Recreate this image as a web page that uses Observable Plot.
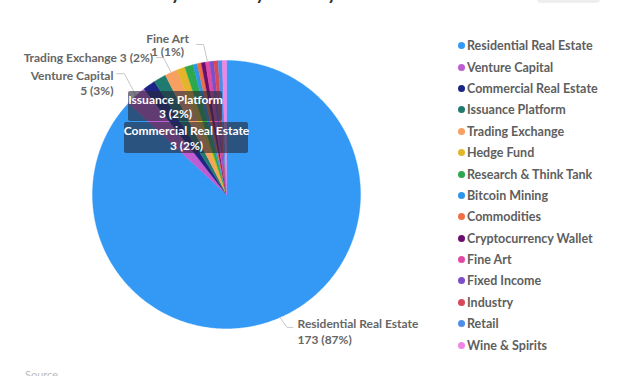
<!DOCTYPE html>
<html><head><meta charset="utf-8">
<script src="https://cdn.jsdelivr.net/npm/d3@7"></script>
<script src="https://cdn.jsdelivr.net/npm/@observablehq/plot@0.6"></script>
<style>
body{margin:0;background:#fff;font-family:Lato,"Open Sans",sans-serif;}
#wrap{position:relative;width:627px;height:376px;overflow:hidden;background:#fff;}
#title{position:absolute;left:22px;top:-17px;font-size:20px;font-weight:700;color:#333;line-height:20px;white-space:nowrap;}
#btn{position:absolute;left:537px;top:-20px;width:63px;height:23px;background:#eeeeee;border-radius:4px;}
#src{position:absolute;left:25px;top:368px;font-size:11px;color:#bbb;}
#legend{position:absolute;left:458px;top:35px;}
.li{height:21.4px;display:flex;align-items:center;font-size:12.5px;font-weight:700;color:#5e5e5e;white-space:nowrap;}
.dot{width:7px;height:7px;border-radius:50%;margin-right:2px;flex:none;}
#chart{position:absolute;left:0;top:0;}
</style></head><body>
<div id="wrap">
  <div id="title">Number of Security Tokens by Industry</div>
  <div id="btn"></div>
  <div id="chart"></div>
  <div id="legend"></div>
  <div id="src">Source</div>
</div>
<script>
const industries = ["Residential Real Estate","Venture Capital","Commercial Real Estate","Issuance Platform","Trading Exchange","Hedge Fund","Research & Think Tank","Bitcoin Mining","Commodities","Cryptocurrency Wallet","Fine Art","Fixed Income","Industry","Retail","Wine & Spirits"];
const counts = [173,5,3,3,3,2,2,1,1,1,1,1,1,1,1];
const colors = ["#3399f5","#bf5cd2","#1c2586","#1f7a70","#f7a061","#e3b52a","#2ea84e","#2f95e8","#ef6f45","#6a0e6e","#e04aa5","#7b4fc9","#d9475a","#4d8fe6","#f085e6"];

// label styling: which labels go outside with leader lines, which are boxed inside
const outside = [
  {name:"Residential Real Estate", oneLine:false, anchor:"start", nudge:[17.6,13.5], lh:1.3, leader:[[0,0],[7,10],[13,10]]},
  {name:"Venture Capital", oneLine:false, anchor:"end", nudge:[-22.5,-12.7], lh:1.25, leader:[[0,0],[-11.5,-22],[-19.5,-22]]},
  {name:"Trading Exchange", oneLine:true, anchor:"end", nudge:[-18,-14.9], lh:1.2, leader:[[0,0],[-7.7,-14.9],[-14.7,-14.9]]},
  {name:"Fine Art", oneLine:false, anchor:"middle", nudge:[-40,-16.5], lh:1.12, leader:[[0,0],[-4,-17.4],[-11,-17.4]]}
];
const boxed = [
  {name:"Issuance Platform", center:[-51,-88], half:[47,15]},
  {name:"Commercial Real Estate", center:[-40,-56.5], half:[62,15.5]}
];

const R = 134; // pixels per data unit (radius)
const total = d3.sum(counts);
const arcs = d3.pie().sort(null).value(d => d)(counts);
const slices = [];
arcs.forEach((a, i) => {
  const name = industries[i];
  slices.push({name, x:0, y:0});
  const n = Math.max(2, Math.ceil((a.endAngle - a.startAngle) / 0.01));
  for (let k = 0; k <= n; k++) {
    const t = a.startAngle + (a.endAngle - a.startAngle) * k / n;
    slices.push({name, x: Math.sin(t), y: Math.cos(t)});
  }
  slices.push({name, x:0, y:0});
});
const pct = name => { const i = industries.indexOf(name); return Math.round(counts[i] / total * 100); };
const cnt = name => counts[industries.indexOf(name)];
const mid = name => { const a = arcs[industries.indexOf(name)]; return (a.startAngle + a.endAngle) / 2; };

const outText = [], leaders = [];
outside.forEach(o => {
  const m = mid(o.name);
  const ax = Math.sin(m), ay = Math.cos(m);
  const txt = o.oneLine ? `${o.name} ${cnt(o.name)} (${pct(o.name)}%)` : `${o.name}\n${cnt(o.name)} (${pct(o.name)}%)`;
  outText.push({text: txt, anchor: o.anchor, lh: o.lh, x: ax + o.nudge[0] / R, y: ay - o.nudge[1] / R});
  o.leader.forEach(p => leaders.push({name: o.name, x: ax + p[0] / R, y: ay - p[1] / R}));
});
const boxRects = boxed.map(b => ({
  x1: (b.center[0] - b.half[0]) / R, x2: (b.center[0] + b.half[0]) / R,
  y1: -(b.center[1] - b.half[1]) / R, y2: -(b.center[1] + b.half[1]) / R,
  cx: b.center[0] / R, cy: -b.center[1] / R,
  text: `${b.name}\n${cnt(b.name)} (${pct(b.name)}%)`
}));

const labelMarks = outText.map(d => Plot.text([d], {x: "x", y: "y", text: "text", textAnchor: d.anchor, fill: "#666666", fontSize: 12, fontWeight: 700, lineHeight: d.lh}));

const plot = Plot.plot({
  width: 627, height: 376,
  marginLeft: 92, marginRight: 267, marginTop: 60, marginBottom: 48,
  x: {domain: [-1, 1], axis: null},
  y: {domain: [-1, 1], axis: null},
  color: {domain: industries, range: colors},
  style: {fontFamily: "Lato, 'Open Sans', sans-serif", overflow: "visible"},
  marks: [
    Plot.line(slices, {x: "x", y: "y", z: "name", fill: "name", stroke: "name", strokeWidth: 0.4, curve: "linear"}),
    Plot.line(leaders, {x: "x", y: "y", z: "name", stroke: "#c8c8c8", strokeWidth: 1, curve: "linear"}),
    ...labelMarks,
    Plot.rect(boxRects, {x1: "x1", x2: "x2", y1: "y1", y2: "y2", fill: "rgb(38,40,56)", fillOpacity: 0.62, rx: 2}),
    Plot.text(boxRects, {x: "cx", y: "cy", text: "text", fill: "white", fontSize: 12, fontWeight: 700, lineHeight: 1.18})
  ]
});
document.getElementById("chart").appendChild(plot);

const lg = document.getElementById("legend");
industries.forEach((n, i) => {
  const row = document.createElement("div");
  row.className = "li";
  const dot = document.createElement("span");
  dot.className = "dot";
  dot.style.background = colors[i];
  row.appendChild(dot);
  row.appendChild(document.createTextNode(n));
  lg.appendChild(row);
});

// fit title to the reference's width
const t = document.getElementById("title");
const w = t.getBoundingClientRect().width;
t.style.fontSize = (20 * 315 / w).toFixed(2) + "px";
</script>
</body></html>
